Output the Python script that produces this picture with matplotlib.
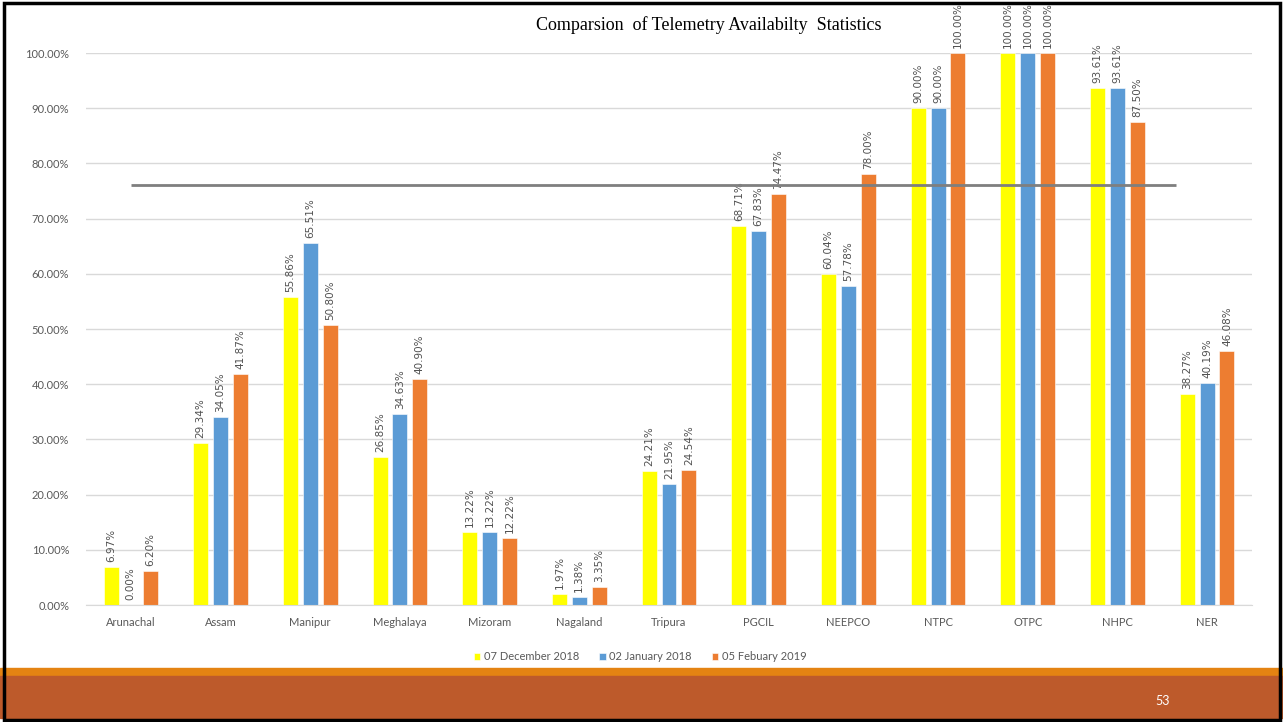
import matplotlib
matplotlib.use("Agg")
import matplotlib.pyplot as plt
from matplotlib.patches import Rectangle
import numpy as np

categories = ["Arunachal", "Assam", "Manipur", "Meghalaya", "Mizoram", "Nagaland",
              "Tripura", "PGCIL", "NEEPCO", "NTPC", "OTPC", "NHPC", "NER"]
series_names = ["07 December 2018", "02 January 2018", "05 Febuary 2019"]
dec_2018 = [6.97, 29.34, 55.86, 26.85, 13.22, 1.97, 24.21, 68.71, 60.04, 90.00, 100.00, 93.61, 38.27]
jan_2018 = [0.00, 34.05, 65.51, 34.63, 13.22, 1.38, 21.95, 67.83, 57.78, 90.00, 100.00, 93.61, 40.19]
feb_2019 = [6.20, 41.87, 50.80, 40.90, 12.22, 3.35, 24.54, 74.47, 78.00, 100.00, 100.00, 87.50, 46.08]
target = 76.0
y_ticks = [0, 10, 20, 30, 40, 50, 60, 70, 80, 90, 100]

colors = ["#FFFF00", "#5B9BD5", "#ED7D31"]
tick_grey = "#595959"

fig = plt.figure(figsize=(12.83, 7.22), dpi=100)
ax = fig.add_axes([86 / 1283, 117 / 722, 1166 / 1283, 552 / 722])

x = np.arange(len(categories))
width = 0.167
step = 0.221
for i, (vals, name, col) in enumerate(zip([dec_2018, jan_2018, feb_2019], series_names, colors)):
    pos = x + (i - 1) * step
    ax.bar(pos, np.array(vals) / 100, width, color=col, label=name,
           edgecolor="white", linewidth=0.4)
    for xp, v in zip(pos, vals):
        ax.text(xp, v / 100 + 0.009, f"{v:.2f}%", rotation=90, ha="center", va="bottom",
                fontsize=7.5, color="#505050", family="DejaVu Sans", clip_on=False)

# target line
ax.hlines(target / 100, 0, 11.65, color="#7F7F7F", linewidth=2, zorder=3)

ax.set_xlim(-0.5, len(categories) - 0.5)
ax.set_ylim(0, 1.0)
ax.set_yticks(np.array(y_ticks) / 100)
ax.set_yticklabels([f"{t:.2f}%" for t in y_ticks], fontsize=8, color=tick_grey, family="Lato")
ax.set_xticks(x)
ax.set_xticklabels(categories, fontsize=8, color=tick_grey, family="Lato")
ax.tick_params(length=0, axis="y", pad=12)
ax.tick_params(length=0, axis="x", pad=9)
ax.grid(axis="y", color="#D9D9D9", linewidth=1)
ax.set_axisbelow(True)
for s in ["top", "right", "left"]:
    ax.spines[s].set_visible(False)
ax.spines["bottom"].set_color("#D9D9D9")

fig.text(709 / 1283, 1 - 25 / 722, "Comparsion  of Telemetry Availabilty  Statistics",
         ha="center", va="center", fontsize=13, family="Liberation Serif", color="black")

leg = ax.legend(loc="center", bbox_to_anchor=(640 / 1283, 1 - 657 / 722),
                bbox_transform=fig.transFigure, ncol=3, frameon=False,
                prop={"family": "Lato", "size": 8}, handlelength=0.6, handleheight=0.6,
                handletextpad=0.3, columnspacing=1.8)
for t in leg.get_texts():
    t.set_color(tick_grey)

# slide footer bands and frame
fig.add_artist(Rectangle((0, 1 - 676 / 722), 1, 8 / 722, transform=fig.transFigure,
                         color="#E48312", zorder=0))
fig.add_artist(Rectangle((0, 1 - 718 / 722), 1, 42 / 722, transform=fig.transFigure,
                         color="#BD5A2B", zorder=0))
fig.text(1163 / 1283, 1 - 701 / 722, "53", color="white", fontsize=9,
         ha="center", va="center", family="Lato")
fig.add_artist(Rectangle((4 / 1283, 2 / 722), 1276 / 1283, 717 / 722, transform=fig.transFigure,
                         fill=False, edgecolor="black", linewidth=2.5, zorder=10))

fig.savefig("out.png", dpi=100, facecolor="white")
